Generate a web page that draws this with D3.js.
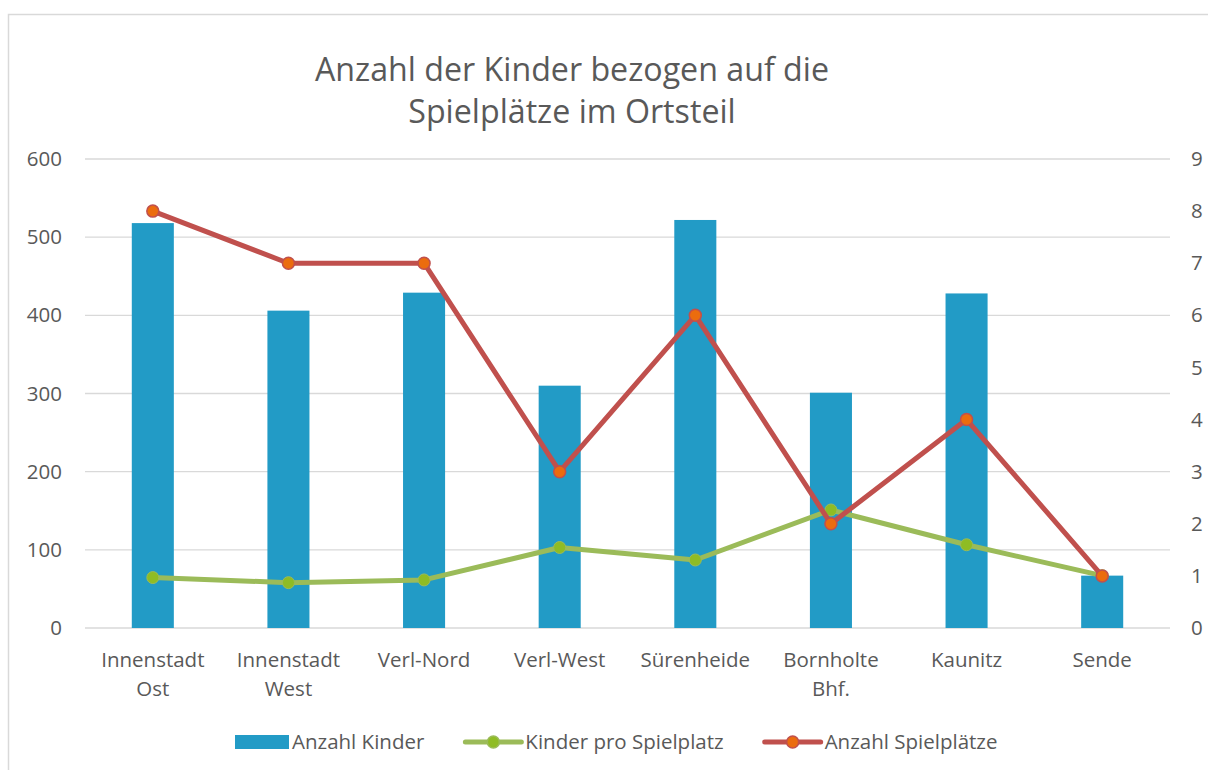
<!DOCTYPE html>
<html>
<head>
<meta charset="utf-8">
<script src="https://cdn.jsdelivr.net/npm/d3@7"></script>
<style>
  body { margin: 0; background: #fff; }
  text { font-family: "Open Sans", "Noto Sans", sans-serif; fill: #595959; }
</style>
</head>
<body>
<svg id="chart" width="1208" height="770"></svg>
<script>
let categories = ['Innenstadt Ost', 'Innenstadt West', 'Verl-Nord', 'Verl-West', 'Sürenheide', 'Bornholte Bhf.', 'Kaunitz', 'Sende']
let anzahlKinder = [518, 406, 429, 310, 522, 301, 428, 67]
let kinderProSpielplatz = [64.5, 58, 61.5, 103, 87, 151, 106.5, 67]
let anzahlSpielplaetze = [8, 7, 7, 3, 6, 2, 4, 1]
let leftTicks = [0, 100, 200, 300, 400, 500, 600]
let rightTicks = [0, 1, 2, 3, 4, 5, 6, 7, 8, 9]
let titleLines = ['Anzahl der Kinder bezogen auf die', 'Spielplätze im Ortsteil']
let seriesNames = ['Anzahl Kinder', 'Kinder pro Spielplatz', 'Anzahl Spielplätze']

function main() {
    let svg = d3.select('#chart'),
        margin = {top: 159, bottom: 142, left: 85, right: 38},
        width = svg.attr('width') - margin.left - margin.right,
        height = svg.attr('height') - margin.top - margin.bottom

    let xScale = d3.scaleBand().range([margin.left, margin.left + width]).domain(categories)
            .paddingInner(0.69).paddingOuter(0.345),
        yLeft = d3.scaleLinear().domain([0, 600]).range([margin.top + height, margin.top]),
        yRight = d3.scaleLinear().domain([0, 9]).range([margin.top + height, margin.top])

    let cx = (d, i) => xScale(categories[i]) + xScale.bandwidth() / 2

    // chart border
    svg.append('rect')
        .attr('x', 8.5).attr('y', 14.5)
        .attr('width', 1300).attr('height', 900)
        .attr('fill', 'none').attr('stroke', '#d9d9d9').attr('stroke-width', 1.5)

    // title
    svg.append('g').selectAll('text')
        .data(titleLines)
        .enter()
        .append('text')
        .attr('x', 572)
        .attr('y', (d, i) => 81 + i * 42)
        .attr('text-anchor', 'middle')
        .style('font-size', '32.2px')
        .text(d => d)

    // gridlines
    svg.append('g').selectAll('line')
        .data(leftTicks)
        .enter()
        .append('line')
        .attr('x1', margin.left).attr('x2', margin.left + width)
        .attr('y1', d => yLeft(d)).attr('y2', d => yLeft(d))
        .attr('stroke', '#d9d9d9').attr('stroke-width', 1.3)

    // left axis
    let leftAxis = svg.append('g')
        .attr('transform', 'translate(' + margin.left + ', 0)')
        .call(d3.axisLeft(yLeft).tickValues(leftTicks).tickSize(0).tickPadding(23))
    leftAxis.select('.domain').remove()
    leftAxis.selectAll('text').style('font-size', '20.5px').attr('fill', '#595959')
        .attr('font-family', null)

    // right axis
    let rightAxis = svg.append('g')
        .attr('transform', 'translate(' + (margin.left + width) + ', 0)')
        .call(d3.axisRight(yRight).tickValues(rightTicks).tickSize(0).tickPadding(21))
    rightAxis.select('.domain').remove()
    rightAxis.selectAll('text').style('font-size', '20.5px').attr('fill', '#595959')
        .attr('font-family', null)

    // category labels
    let xAxis = svg.append('g')
        .attr('transform', 'translate(0, ' + (margin.top + height) + ')')
        .call(d3.axisBottom(xScale).tickSize(0).tickFormat(''))
    xAxis.select('.domain').remove()
    xAxis.selectAll('.tick').append('text')
        .attr('text-anchor', 'middle')
        .style('font-size', '20.5px')
        .attr('fill', '#595959')
        .selectAll('tspan')
        .data(d => d.split(' '))
        .enter()
        .append('tspan')
        .attr('x', 0)
        .attr('y', (d, i) => 39 + i * 29)
        .text(d => d)

    // bars
    svg.append('g').selectAll('rect')
        .data(anzahlKinder)
        .enter()
        .append('rect')
        .attr('x', (d, i) => xScale(categories[i]))
        .attr('y', d => yLeft(d))
        .attr('width', xScale.bandwidth())
        .attr('height', d => yLeft(0) - yLeft(d))
        .attr('fill', '#229bc6')

    // Kinder pro Spielplatz (left axis)
    let greenLine = d3.line().x(cx).y(d => yLeft(d))
    svg.append('path')
        .datum(kinderProSpielplatz)
        .attr('d', greenLine)
        .attr('fill', 'none')
        .attr('stroke', '#9bbb59')
        .attr('stroke-width', 5)
        .attr('stroke-linejoin', 'round')
    svg.append('g').selectAll('circle')
        .data(kinderProSpielplatz)
        .enter()
        .append('circle')
        .attr('cx', cx)
        .attr('cy', d => yLeft(d))
        .attr('r', 6)
        .attr('fill', '#8fbc24')
        .attr('stroke', '#9bbb59')
        .attr('stroke-width', 1)

    // Anzahl Spielplätze (right axis)
    let redLine = d3.line().x(cx).y(d => yRight(d))
    svg.append('path')
        .datum(anzahlSpielplaetze)
        .attr('d', redLine)
        .attr('fill', 'none')
        .attr('stroke', '#c0504d')
        .attr('stroke-width', 5)
        .attr('stroke-linejoin', 'round')
    svg.append('g').selectAll('circle')
        .data(anzahlSpielplaetze)
        .enter()
        .append('circle')
        .attr('cx', cx)
        .attr('cy', d => yRight(d))
        .attr('r', 6)
        .attr('fill', '#eb6c0e')
        .attr('stroke', '#c0504d')
        .attr('stroke-width', 1.5)

    // legend
    let legend = svg.append('g').attr('transform', 'translate(235, 742)')
    let lx = 0
    seriesNames.forEach((name, i) => {
        let item = legend.append('g').attr('transform', 'translate(' + lx + ', 0)')
        if (i === 0) {
            item.append('rect').attr('x', 0).attr('y', -7).attr('width', 54).attr('height', 14).attr('fill', '#229bc6')
        } else {
            let stroke = i === 1 ? '#9bbb59' : '#c0504d',
                fill = i === 1 ? '#8fbc24' : '#eb6c0e'
            item.append('line').attr('x1', 0).attr('x2', 56).attr('y1', 0).attr('y2', 0)
                .attr('stroke', stroke).attr('stroke-width', 5).attr('stroke-linecap', 'round')
            item.append('circle').attr('cx', 28).attr('cy', 0).attr('r', 6)
                .attr('fill', fill).attr('stroke', stroke).attr('stroke-width', 1.5)
        }
        let t = item.append('text')
            .attr('x', i === 0 ? 57 : 60)
            .attr('y', 7)
            .style('font-size', '20.5px')
            .text(name)
        lx += (i === 0 ? 57 : 60) + t.node().getComputedTextLength() + 41
    })
}

main()
</script>
</body>
</html>
